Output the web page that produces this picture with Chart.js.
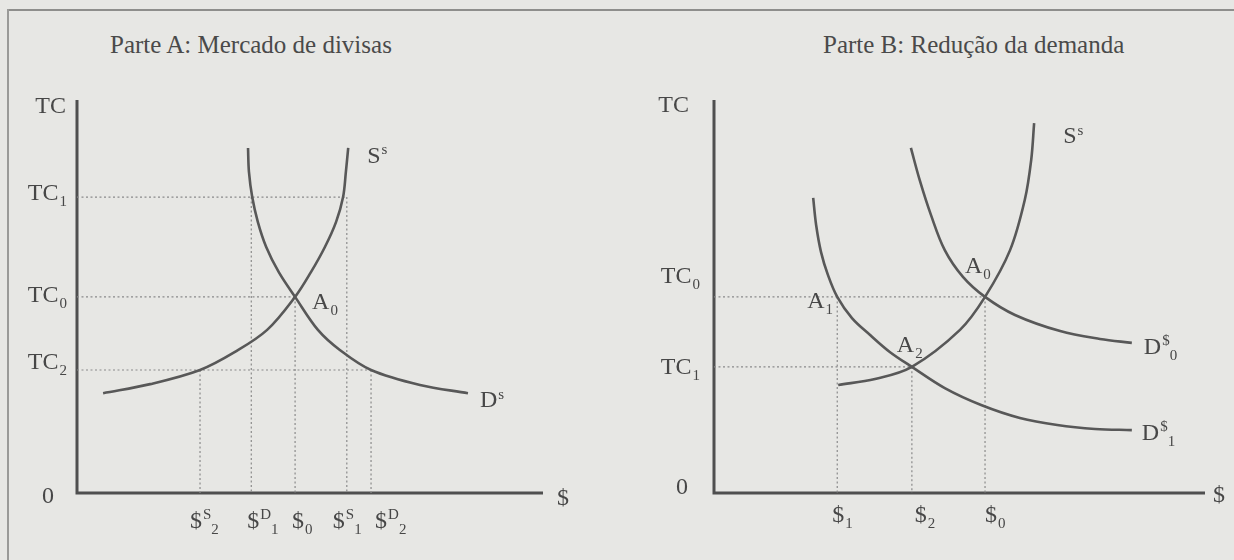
<!DOCTYPE html>
<html>
<head>
<meta charset="utf-8">
<script src="https://cdn.jsdelivr.net/npm/chart.js@4/dist/chart.umd.min.js"></script>
<style>
html,body{margin:0;padding:0;background:#e7e7e4;}
#wrap{position:relative;width:1234px;height:560px;overflow:hidden;background:#e7e7e4;}
#frameTop{position:absolute;left:8px;top:9px;width:1226px;height:2px;background:#8e8e8c;}
#frameLeft{position:absolute;left:7px;top:9px;width:2px;height:551px;background:#9a9a98;}
.title{position:absolute;top:32px;font-family:"Liberation Serif",serif;font-size:25px;line-height:25px;color:#4a4a4a;white-space:nowrap;}
canvas{position:absolute;top:0;}
</style>
</head>
<body>
<div id="wrap">
  <div id="frameTop"></div>
  <div id="frameLeft"></div>
  <div class="title" style="left:110px;">Parte A: Mercado de divisas</div>
  <div class="title" style="left:823px;">Parte B: Redução da demanda</div>
  <canvas id="cA" width="617" height="560" style="left:0px;width:617px;height:560px;"></canvas>
  <canvas id="cB" width="617" height="560" style="left:617px;width:617px;height:560px;"></canvas>
</div>
<script>
// ---------- Panel A: Mercado de divisas ----------
const aSupplyX = [5.6, 15.7, 26.4, 33.9, 40.8, 46.8, 50.2, 53.2, 55.6, 57.1, 57.7, 58.2];
const aSupplyY = [25.4, 27.7, 31.3, 35.9, 41.5, 49.9, 56.2, 62.6, 69.0, 75.3, 81.7, 87.8];
const aDemandX = [36.7, 36.9, 37.6, 38.8, 40.6, 43.3, 46.8, 51.7, 56.4, 63.1, 73.6, 83.9];
const aDemandY = [87.8, 81.7, 75.3, 69.0, 62.6, 56.2, 49.9, 41.5, 36.4, 31.3, 27.5, 25.4];
// exchange-rate levels (TC1, TC0, TC2)
const aRateVals = [75.3, 49.9, 31.3];
const aRateLabels = [["TC","","1"],["TC","","0"],["TC","","2"]];
// quantities ($S2, $D1, $0, $S1, $D2) and the rate level each one is read at
const aQtyVals = [26.4, 37.4, 46.8, 57.9, 63.1];
const aQtyRate = [31.3, 75.3, 49.9, 75.3, 31.3];
const aQtyLabels = [["$","S","2"],["$","D","1"],["$","","0"],["$","S","1"],["$","D","2"]];
// horizontal guides: rate level -> furthest quantity reached
const aGuideRate = [75.3, 49.9, 31.3];
const aGuideEnd = [57.9, 46.8, 63.1];
// equilibrium point A0
const aEqX = [46.8];
const aEqY = [49.9];

// ---------- Panel B: Redução da demanda ----------
const bSupplyX = [25.3, 32.8, 40.3, 50.1, 55.2, 60.3, 63.3, 64.6, 65.2];
const bSupplyY = [27.5, 29.0, 32.1, 41.5, 49.9, 61.8, 74.6, 84.7, 94.1];
const bDemand0X = [40.1, 41.9, 44.2, 47.0, 50.7, 55.2, 61.3, 70.5, 78.6, 85.1];
const bDemand0Y = [87.8, 79.6, 70.7, 61.8, 55.0, 49.9, 45.3, 41.2, 39.2, 38.2];
const bDemand1X = [20.2, 20.8, 21.8, 23.2, 25.1, 28.1, 31.8, 35.8, 40.3, 47.0, 54.4, 62.3, 69.9, 77.6, 85.1];
const bDemand1Y = [75.1, 68.2, 61.3, 55.5, 49.9, 44.5, 40.2, 35.9, 32.1, 26.7, 22.4, 19.1, 17.3, 16.3, 16.0];
const bRateVals = [49.9, 32.1];
const bRateLabels = [["TC","","0"],["TC","","1"]];
const bQtyVals = [25.1, 40.3, 55.2];
const bQtyRate = [49.9, 32.1, 49.9];
const bQtyLabels = [["$","","1"],["$","","2"],["$","","0"]];
const bGuideRate = [49.9, 32.1];
const bGuideEnd = [55.2, 40.3];
// points A0, A1, A2
const bPtX = [55.2, 25.1, 40.3];
const bPtY = [49.9, 49.9, 32.1];
const bPtLabels = [["A","","0"],["A","","1"],["A","","2"]];

const AXIS_MAX = 100;

// ---------- styles ----------
const C_AXIS = "#4f4f4f", C_CURVE = "#585858", C_GUIDE = "#8a8a8a", C_TEXT = "#474747";
const FONT = '"Liberation Serif", "Times New Roman", serif';

function pts(xs, ys){ return xs.map((x,i)=>({x:x, y:ys[i]})); }
function curve(xs, ys){
  return {data: pts(xs, ys), showLine:true, borderColor:C_CURVE, borderWidth:2.6,
          pointRadius:0, fill:false, tension:0.35, borderCapStyle:"butt", clip:false};
}
function guide(p){
  return {data:p, showLine:true, borderColor:C_GUIDE, borderWidth:1.2, borderDash:[2,2.5],
          pointRadius:0, fill:false, tension:0, clip:false};
}
function axes(){
  return {data:[{x:0,y:AXIS_MAX},{x:0,y:0},{x:AXIS_MAX,y:0}], showLine:true, borderColor:C_AXIS,
          borderWidth:3, pointRadius:0, fill:false, tension:0, clip:false, borderJoinStyle:"miter"};
}
function guides(rate, end, qty, qrate){
  const out = [];
  rate.forEach((r,i)=> out.push(guide([{x:0,y:r},{x:end[i],y:r}])));
  qty.forEach((q,i)=> out.push(guide([{x:q,y:qrate[i]},{x:q,y:0}])));
  return out;
}

function lbl(ctx, x, y, parts, align, big){
  big = big || 24;
  const small = Math.round(big*0.62);
  const main = parts[0], sup = parts[1], sub = parts[2];
  ctx.font = big + "px " + FONT;
  const wm = ctx.measureText(main).width;
  ctx.font = small + "px " + FONT;
  const ws = sup ? ctx.measureText(sup).width : 0;
  const wb = sub ? ctx.measureText(sub).width : 0;
  const subX = sup ? wm + ws + 1 : wm + 1;
  const total = Math.max(wm + ws + 1, sub ? subX + wb : 0);
  const x0 = align === "right" ? x - total : (align === "center" ? x - total/2 : x);
  ctx.fillStyle = C_TEXT; ctx.textAlign = "left"; ctx.textBaseline = "alphabetic";
  ctx.font = big + "px " + FONT;
  ctx.fillText(main, x0, y);
  ctx.font = small + "px " + FONT;
  if (sup) ctx.fillText(sup, x0 + wm + 1, y - big*0.36);
  if (sub) ctx.fillText(sub, x0 + subX, y + big*0.24);
}

function makeChart(id, pad, datasets, drawLabels){
  return new Chart(document.getElementById(id), {
    type: "scatter",
    data: {datasets: datasets},
    options: {
      responsive:false, animation:false, devicePixelRatio:1, events:[],
      layout:{padding:pad},
      scales:{
        x:{type:"linear", min:0, max:AXIS_MAX, display:false},
        y:{type:"linear", min:0, max:AXIS_MAX, display:false}
      },
      plugins:{legend:{display:false}, tooltip:{enabled:false}, title:{display:false}}
    },
    plugins:[{id:"lbls", afterDatasetsDraw(chart){ drawLabels(chart); }}]
  });
}

// ---------- Panel A chart ----------
makeChart("cA", {left:77, right:74, top:100, bottom:67},
  [curve(aSupplyX, aSupplyY), curve(aDemandX, aDemandY),
   ...guides(aGuideRate, aGuideEnd, aQtyVals, aQtyRate), axes()],
  function(chart){
    const ctx = chart.ctx, sx = chart.scales.x, sy = chart.scales.y;
    const ax = sx.getPixelForValue(0), ay = sy.getPixelForValue(0);
    const rateDy = [3, 5, -1];
    lbl(ctx, ax - 10, sy.getPixelForValue(AXIS_MAX) + 13, ["TC","",""], "right");
    aRateVals.forEach((v,i)=> lbl(ctx, ax - 10, sy.getPixelForValue(v) + rateDy[i], aRateLabels[i], "right"));
    lbl(ctx, ax - 22, ay + 10, ["0","",""], "right");
    lbl(ctx, sx.getPixelForValue(AXIS_MAX) + 14, ay + 12, ["$","",""], "left");
    const qDx = [-10, -4, -3, -14, 4];
    aQtyVals.forEach((v,i)=> lbl(ctx, sx.getPixelForValue(v) + qDx[i], ay + 35, aQtyLabels[i], "left"));
    // A0
    lbl(ctx, sx.getPixelForValue(aEqX[0]) + 17, sy.getPixelForValue(aEqY[0]) + 12, ["A","","0"], "left");
    // curve names
    const sTop = aSupplyX.length - 1;
    lbl(ctx, sx.getPixelForValue(aSupplyX[sTop]) + 19, sy.getPixelForValue(aSupplyY[sTop]) + 15, ["S","s",""], "left");
    const dEnd = aDemandX.length - 1;
    lbl(ctx, sx.getPixelForValue(aDemandX[dEnd]) + 12, sy.getPixelForValue(aDemandY[dEnd]) + 14, ["D","s",""], "left");
  });

// ---------- Panel B chart ----------
makeChart("cB", {left:97, right:29, top:100, bottom:67},
  [curve(bSupplyX, bSupplyY), curve(bDemand0X, bDemand0Y), curve(bDemand1X, bDemand1Y),
   ...guides(bGuideRate, bGuideEnd, bQtyVals, bQtyRate), axes()],
  function(chart){
    const ctx = chart.ctx, sx = chart.scales.x, sy = chart.scales.y;
    const ax = sx.getPixelForValue(0), ay = sy.getPixelForValue(0);
    const rateDy = [-14, 7];
    lbl(ctx, ax - 24, sy.getPixelForValue(AXIS_MAX) + 12, ["TC","",""], "right");
    bRateVals.forEach((v,i)=> lbl(ctx, ax - 14, sy.getPixelForValue(v) + rateDy[i], bRateLabels[i], "right"));
    lbl(ctx, ax - 25, ay + 1, ["0","",""], "right");
    lbl(ctx, sx.getPixelForValue(AXIS_MAX) + 8, ay + 9, ["$","",""], "left");
    const qDx = [-5, 3, 0];
    bQtyVals.forEach((v,i)=> lbl(ctx, sx.getPixelForValue(v) + qDx[i], ay + 29, bQtyLabels[i], "left"));
    const pDx = [-20, -30, -15], pDy = [-24, 11, -15];
    bPtX.forEach((v,i)=> lbl(ctx, sx.getPixelForValue(v) + pDx[i], sy.getPixelForValue(bPtY[i]) + pDy[i], bPtLabels[i], "left"));
    const sTop = bSupplyX.length - 1;
    lbl(ctx, sx.getPixelForValue(bSupplyX[sTop]) + 29, sy.getPixelForValue(bSupplyY[sTop]) + 20, ["S","s",""], "left");
    const d0 = bDemand0X.length - 1, d1 = bDemand1X.length - 1;
    lbl(ctx, sx.getPixelForValue(bDemand0X[d0]) + 12, sy.getPixelForValue(bDemand0Y[d0]) + 11, ["D","$","0"], "left");
    lbl(ctx, sx.getPixelForValue(bDemand1X[d1]) + 10, sy.getPixelForValue(bDemand1Y[d1]) + 10, ["D","$","1"], "left");
  });
</script>
</body>
</html>
